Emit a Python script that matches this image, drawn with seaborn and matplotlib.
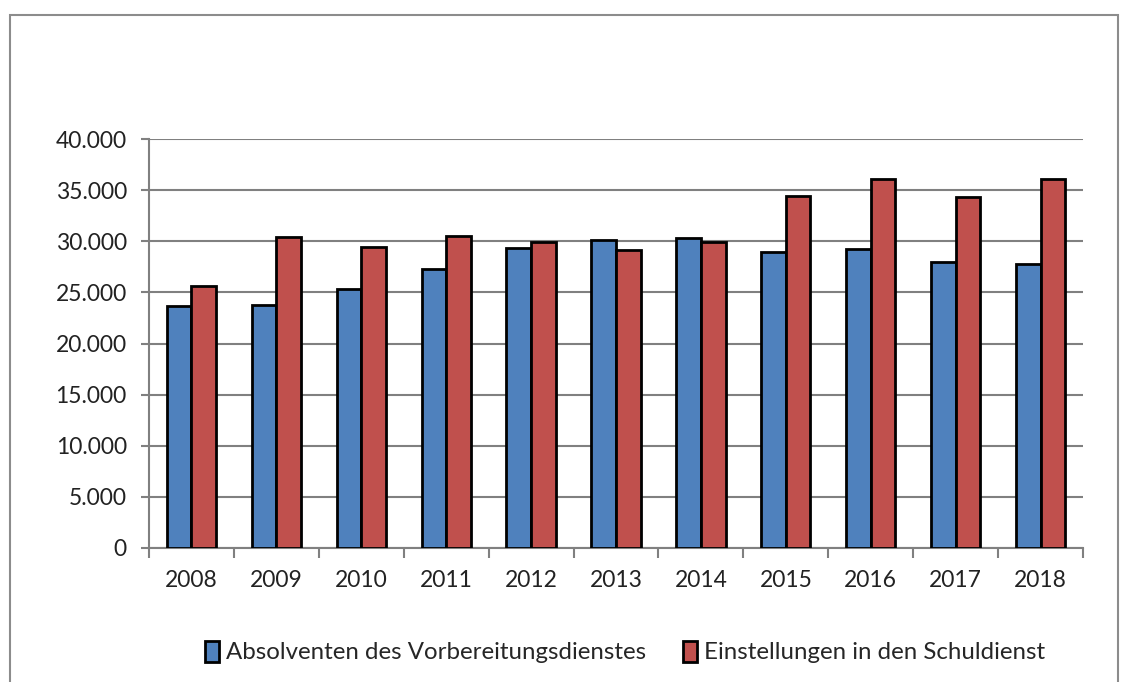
import pandas as pd
import matplotlib
matplotlib.use('Agg')
import matplotlib.pyplot as plt
import matplotlib.ticker as mticker
from matplotlib.patches import Rectangle
import seaborn as sns

jahre = ['2008', '2009', '2010', '2011', '2012', '2013', '2014', '2015', '2016', '2017', '2018']
absolventen = [23650, 23800, 25300, 27300, 29300, 30150, 30300, 28950, 29200, 27950, 27800]
einstellungen = [25650, 30400, 29400, 30550, 29950, 29100, 29950, 34450, 36100, 34300, 36100]
serien = ['Absolventen des Vorbereitungsdienstes', 'Einstellungen in den Schuldienst']
farben = ['#4F81BD', '#C0504D']

df = pd.DataFrame({
    'Jahr': jahre * 2,
    'Wert': absolventen + einstellungen,
    'Serie': [serien[0]] * len(jahre) + [serien[1]] * len(jahre),
})

sns.set_theme(style='white')
plt.rcParams['font.family'] = ['Lato', 'DejaVu Sans']

fig = plt.figure(figsize=(11.21, 6.82), dpi=100)
ax = fig.add_axes([149 / 1121, 1 - 548 / 682, (1083 - 149) / 1121, (548 - 139) / 682])

sns.barplot(data=df, x='Jahr', y='Wert', hue='Serie', palette=farben, width=0.58,
            edgecolor='black', linewidth=2, ax=ax, saturation=1, zorder=3)

ax.set_ylim(0, 40000)
ax.set_xlim(-0.5, len(jahre) - 0.5)
ax.yaxis.set_major_locator(mticker.MultipleLocator(5000))
ax.yaxis.set_major_formatter(mticker.FuncFormatter(lambda v, p: f'{int(v):,}'.replace(',', '.')))
ax.grid(axis='y', color='#808080', linewidth=1.5, zorder=0)
ax.set_axisbelow(True)
ax.set_xlabel('')
ax.set_ylabel('')

for s in ['top', 'right']:
    ax.spines[s].set_visible(False)
for s in ['left', 'bottom']:
    ax.spines[s].set_color('#808080')
    ax.spines[s].set_linewidth(1.5)

# Excel-artige Ticks: y nach außen, x zwischen den Kategorien
ax.tick_params(axis='y', which='major', length=6, width=1.5, color='#808080', direction='out',
               left=True, labelsize=16.5, labelcolor='#222222', pad=10)
ax.set_xticks(range(len(jahre)))
ax.set_xticklabels(jahre)
ax.tick_params(axis='x', which='major', length=0, labelsize=16.5, labelcolor='#222222', pad=16)
ax.set_xticks([i - 0.5 for i in range(len(jahre) + 1)], minor=True)
ax.tick_params(axis='x', which='minor', length=7, width=1.5, color='#808080', direction='out', bottom=True)

handles, labels = ax.get_legend_handles_labels()
ax.legend(handles, labels, loc='center', bbox_to_anchor=(625 / 1121, 1 - 652 / 682),
          bbox_transform=fig.transFigure, ncol=2, frameon=False, fontsize=17.3,
          handlelength=0.6, handleheight=1.0, handletextpad=0.3, columnspacing=1.5)

fig.patches.append(Rectangle((10 / 1121, -0.05), (1118 - 10) / 1121, 1.05 - 15 / 682,
                             transform=fig.transFigure, fill=False, edgecolor='#8c8c8c',
                             linewidth=1.5, zorder=0))

fig.savefig('out.png', dpi=100, facecolor='white')
